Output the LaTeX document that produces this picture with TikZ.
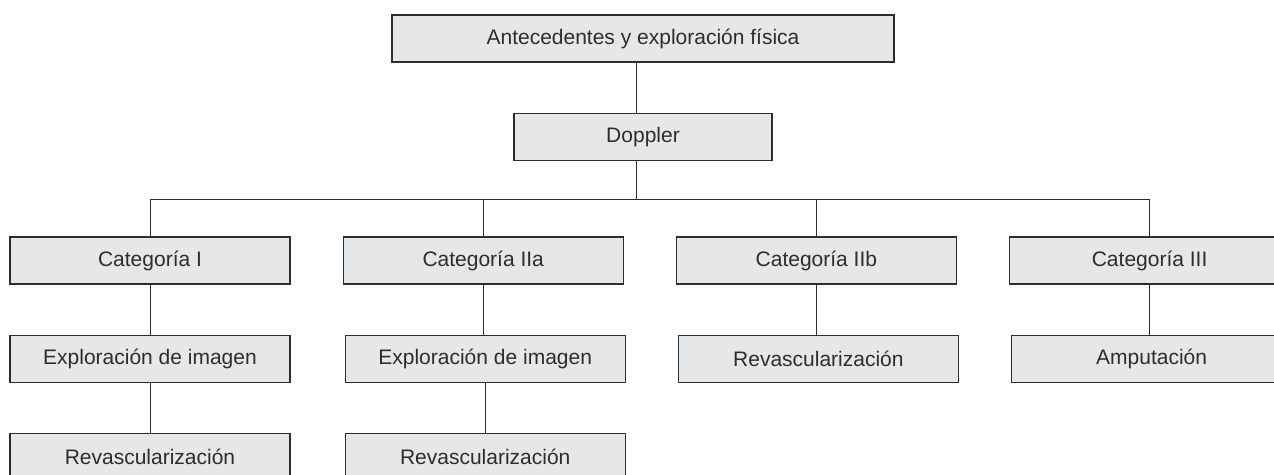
\documentclass[tikz,border=0pt]{standalone}
\usepackage{fontspec}
\setmainfont{Liberation Sans}
\usetikzlibrary{positioning}
\definecolor{cajagris}{RGB}{230,231,232}
\definecolor{lineagris}{RGB}{45,45,45}
\tikzset{
    %Define style for boxes
    caja/.style={
           rectangle,
           draw=lineagris, line width=1.2pt,
           fill=cajagris,
           text=lineagris,
           minimum width=280pt,
           minimum height=47pt,
           inner sep=0pt,
           font=\fontsize{21}{25}\selectfont,
           text centered},
    % Define line style
    linea/.style={
           draw=lineagris,
           line width=1pt}
}

\begin{document}
\begin{tikzpicture}[node distance=50pt and 52pt]
		\useasboundingbox (0,0) rectangle (1274pt,-474pt);
		\node[caja, minimum width=502pt] (historia) at (643pt,-38.5pt) {Antecedentes y exploración física};
		\node[caja, minimum width=258pt, below=of historia] (doppler) {Doppler};
		\coordinate[below=39pt of doppler.south, xshift=-7pt] (bus);
		\node[caja] (cat1) at (150pt,-260.5pt) {Categoría I};
		\node[caja, right=of cat1] (cat2a) {Categoría IIa};
		\node[caja, right=of cat2a] (cat2b) {Categoría IIb};
		\node[caja, right=of cat2b] (cat3) {Categoría III};
		\node[caja, below=of cat1] (imagen1) {Exploración de imagen};
		\node[caja, below=of cat2a, xshift=2pt] (imagen2a) {Exploración de imagen};
		\node[caja, below=of cat2b, xshift=2pt] (revasc2b) {Revascularización};
		\node[caja, below=of cat3, xshift=2pt] (amputacion) {Amputación};
		\node[caja, below=of imagen1] (revasc1) {Revascularización};
		\node[caja, below=of imagen2a] (revasc2a) {Revascularización};
		\draw[linea] ([xshift=-7pt]historia.south) -- ([xshift=-7pt]doppler.north);
		\draw[linea] ([xshift=-7pt]doppler.south) -- (bus);
		\draw[linea] (cat1.north) |- (bus) -| (cat3.north);
		\draw[linea] (cat2a.north |- bus) -- (cat2a.north);
		\draw[linea] (cat2b.north |- bus) -- (cat2b.north);
		\draw[linea] (cat1.south) -- (imagen1.north);
		\draw[linea] (imagen1.south) -- (revasc1.north);
		\draw[linea] (cat2a.south) -- (cat2a.south |- imagen2a.north);
		\draw[linea] (imagen2a.south) -- (revasc2a.north);
		\draw[linea] (cat2b.south) -- (cat2b.south |- revasc2b.north);
		\draw[linea] (cat3.south) -- (cat3.south |- amputacion.north);
	\end{tikzpicture}
\end{document}
